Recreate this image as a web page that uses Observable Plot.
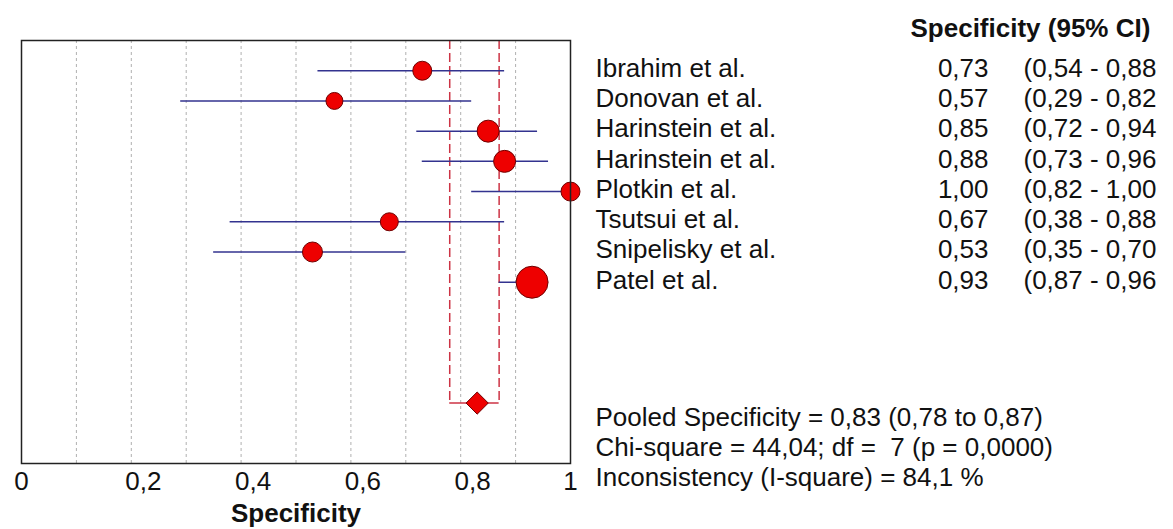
<!DOCTYPE html>
<html><head><meta charset="utf-8">
<script src="https://cdn.jsdelivr.net/npm/d3@7"></script>
<script src="https://cdn.jsdelivr.net/npm/@observablehq/plot@0.6"></script>
<style>html,body{margin:0;padding:0;background:#fff;overflow:hidden}</style>
</head><body><div id="chart"></div>
<script>
const studies = ["Ibrahim et al.", "Donovan et al.", "Harinstein et al.", "Harinstein et al.", "Plotkin et al.", "Tsutsui et al.", "Snipelisky et al.", "Patel et al."];
const spec  = [0.73, 0.57, 0.85, 0.88, 1.00, 0.67, 0.53, 0.93];
const lower = [0.54, 0.29, 0.72, 0.73, 0.82, 0.38, 0.35, 0.87];
const upper = [0.88, 0.82, 0.94, 0.96, 1.00, 0.88, 0.70, 0.96];
const weights = [90, 72, 121, 121, 90, 81, 100, 256];
const pooledEst = 0.83, pooledLo = 0.78, pooledHi = 0.87;
const statsLines = [
  "Pooled Specificity = 0,83 (0,78 to 0,87)",
  "Chi-square = 44,04; df =  7 (p = 0,0000)",
  "Inconsistency (I-square) = 84,1 %"
];
const edgeTicks = [0, 1];
const innerTicks = [0.2, 0.4, 0.6, 0.8];
const gridTicks = [0.1, 0.2, 0.3, 0.4, 0.5, 0.6, 0.7, 0.8, 0.9];
const header = "Specificity (95% CI)";
const xLabel = "Specificity";

const fmt2 = v => d3.format(".2f")(v).replace(".", ",");
const fmtTick = v => String(v).replace(".", ",");
const rows = studies.map((s, i) => ({study: s, row: i, est: spec[i], lo: lower[i], hi: upper[i], w: weights[i]}));
const pooledRow = studies.length + 3;
const topRow = -1, bottomRow = studies.length + 5;
const pooled = [{row: pooledRow, est: pooledEst, lo: pooledLo, hi: pooledHi}];

const FONT = "'Liberation Sans', Arial, sans-serif";
const FS = 26;
const red = "#ee0000", redStroke = "#700000", ciBlue = "#33338f", dashRed = "#cc3344";
const W = 1173;

const chart = Plot.plot({
  width: W, height: 529,
  marginLeft: 21, marginRight: W - 570, marginTop: 40, marginBottom: 66,
  style: {fontFamily: FONT, fontSize: FS + "px", color: "#111", background: "#fff"},
  x: {domain: [0, 1], axis: null},
  y: {domain: [topRow, bottomRow], reverse: true, axis: null},
  r: {type: "sqrt", domain: [0, 256], range: [0, 16]},
  marks: [
    Plot.ruleX(gridTicks, {y1: topRow, y2: bottomRow, stroke: "#b0b0b0", strokeDasharray: "3,3", strokeWidth: 1}),
    Plot.ruleX([pooledLo, pooledHi], {y1: topRow, y2: pooledRow, stroke: dashRed, strokeDasharray: "9,4", strokeWidth: 1.5}),
    Plot.ruleY(pooled, {y: "row", x1: "lo", x2: "hi", stroke: dashRed, strokeWidth: 1.5}),
    Plot.ruleY(rows, {y: "row", x1: "lo", x2: "hi", stroke: ciBlue, strokeWidth: 1.5}),
    Plot.dot(rows, {x: "est", y: "row", r: "w", fill: red, stroke: redStroke, strokeWidth: 1}),
    Plot.dot(pooled, {x: "est", y: "row", r: 10, symbol: "diamond2", fill: red, stroke: redStroke, strokeWidth: 1}),
    Plot.frame({stroke: "#222", strokeWidth: 1.5}),
    // x tick labels
    Plot.text(edgeTicks, {x: d => d, text: fmtTick, frameAnchor: "bottom", lineAnchor: "middle", dy: 18, fontSize: FS}),
    Plot.text(innerTicks, {x: d => d, text: fmtTick, frameAnchor: "bottom", lineAnchor: "middle", dy: 18, dx: 12, fontSize: FS}),
    Plot.text([xLabel], {frameAnchor: "bottom", lineAnchor: "middle", dy: 50, fontWeight: "bold", fontSize: FS}),
    // right-hand table (closing parenthesis falls outside the reference image)
    Plot.text([header], {frameAnchor: "top-right", textAnchor: "start", lineAnchor: "middle", dx: 340, dy: -12, fontWeight: "bold", fontSize: FS}),
    Plot.text(rows, {y: "row", text: "study", frameAnchor: "right", textAnchor: "start", lineAnchor: "middle", dx: 25, dy: -2, fontSize: FS}),
    Plot.text(rows, {y: "row", text: d => fmt2(d.est), frameAnchor: "right", textAnchor: "end", lineAnchor: "middle", dx: 418, dy: -2, fontSize: FS}),
    Plot.text(rows, {y: "row", text: d => "(" + fmt2(d.lo) + " - " + fmt2(d.hi), frameAnchor: "right", textAnchor: "start", lineAnchor: "middle", dx: 453, dy: -2, fontSize: FS}),
    Plot.text([statsLines.join("\n")], {frameAnchor: "bottom-right", textAnchor: "start", lineAnchor: "middle", lineHeight: 30 / FS, dx: 25, dy: -17, fontSize: FS})
  ]
});
document.getElementById("chart").appendChild(chart);
</script>
</body></html>
